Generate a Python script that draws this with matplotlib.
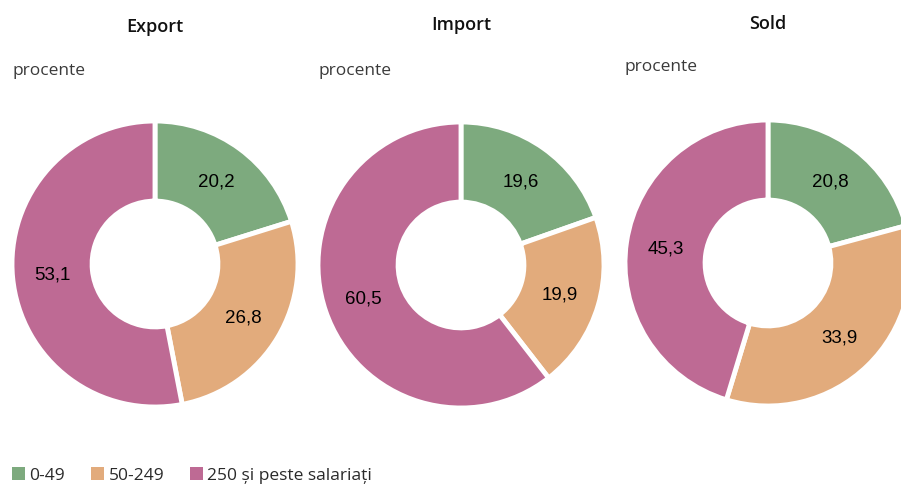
import matplotlib.pyplot as plt
from matplotlib.patches import Patch

titles = ['Export', 'Import', 'Sold']
categories = ['0-49', '50-249', '250 și peste salariați']
export_vals = [20.2, 26.8, 53.1]
import_vals = [19.6, 19.9, 60.5]
sold_vals = [20.8, 33.9, 45.3]
series = [export_vals, import_vals, sold_vals]
colors = ['#7daa7e', '#e2ab7c', '#be6a94']

W, H = 901, 485
fig = plt.figure(figsize=(W / 100, H / 100), dpi=100)
plt.rcParams['font.family'] = ['Open Sans', 'DejaVu Sans']

centers = [(155, 265), (461, 266), (768, 264)]
R = 143
title_y = [27, 25, 24]
sub_y = [71, 71, 67]
sub_x = [13, 318, 625]

for i, vals in enumerate(series):
    cx, cy = centers[i]
    ax = fig.add_axes([(cx - R) / W, 1 - (cy + R) / H, 2 * R / W, 2 * R / H])
    labels = [f'{v:.1f}'.replace('.', ',') for v in vals]
    wedges, texts = ax.pie(vals, colors=colors, startangle=90, counterclock=False,
                           radius=1, labels=labels, labeldistance=0.72,
                           wedgeprops=dict(width=0.56, edgecolor='white', linewidth=3.5))
    for t in texts:
        t.set_ha('center')
        t.set_va('center')
        t.set_fontsize(13.5)
        t.set_family(['Liberation Sans Narrow', 'Liberation Sans', 'DejaVu Sans'])
        t.set_color('black')
    ax.set_xlim(-1, 1)
    ax.set_ylim(-1, 1)
    ax.set_aspect('equal')
    ax.axis('off')
    fig.text(cx / W, 1 - title_y[i] / H, titles[i], ha='center', va='center',
             fontsize=13, fontweight='semibold', color='#111111')
    fig.text(sub_x[i] / W, 1 - sub_y[i] / H, 'procente', ha='left', va='center',
             fontsize=12.5, color='#3a3a3a')

handles = [Patch(facecolor=c, edgecolor='none') for c in colors]
fig.legend(handles, categories, loc='center left', bbox_to_anchor=(12 / W, 1 - 476 / H),
           ncol=3, frameon=False, fontsize=12.5, handlelength=0.75, handleheight=0.75,
           handletextpad=0.25, columnspacing=1.5, borderaxespad=0, borderpad=0,
           labelcolor='#2a2a2a')

fig.savefig('out.png', dpi=100)
